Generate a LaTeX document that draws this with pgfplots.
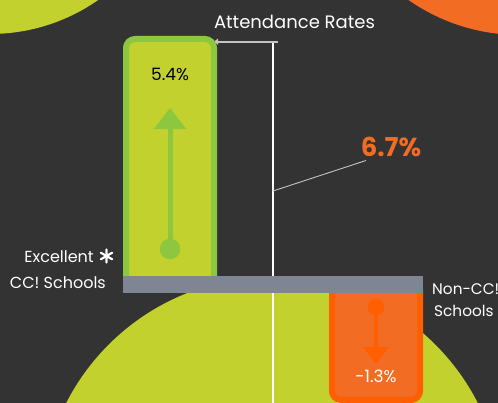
\documentclass[border=0pt]{standalone}
\usepackage{pgfplots}
\pgfplotsset{compat=1.18}
\usepackage{fontspec}
\setmainfont{Poppins}
\usetikzlibrary{arrows.meta}
\definecolor{bg}{HTML}{333333}
\definecolor{lime}{HTML}{C2D12E}
\definecolor{grborder}{HTML}{8DC63F}
\definecolor{orfill}{HTML}{F36C24}
\definecolor{orborder}{HTML}{FF5F00}
\definecolor{graybar}{HTML}{7F8593}
\definecolor{lgray}{HTML}{C4C4C4}
\begin{document}
\begin{tikzpicture}
\fill[bg] (0pt,0pt) rectangle (498pt,403pt);
\begin{scope}[overlay, x=1pt, y=1pt]
\clip (0,0) rectangle (498,403);
\fill[lime] (-10,558) circle[radius=189];
\fill[orfill] (520,563) circle[radius=195];
\fill[lime] (272,-105) circle[radius=231];
\draw[white, line width=2pt] (272.5,361) -- (272.5,-2);
\draw[lgray, line width=1.8pt, {Triangle[width=6pt,length=4pt]}-] (214,361.3) -- (278,361.3);
\draw[lgray, line width=0.9pt] (273,212) -- (366,242.5);
\fill[white!90!gray] (337,6) -- (344,0) -- (337,0) -- cycle;
\end{scope}
% green bar (Excellent CC! Schools)
\begin{axis}[at={(170pt,116pt)}, anchor=origin, width=88pt, height=248pt,
  scale only axis, xmin=-0.5, xmax=0.5, ymin=0, ymax=5.4, hide axis, clip=false]
\addplot[ybar, bar width=88pt, fill=lime, draw=grborder, line width=6pt, rounded corners=9pt] coordinates {(0,5.4)};
\addplot[sharp plot, grborder, line width=5pt, -{Triangle[width=31pt,length=21pt]}] coordinates {(0,0.827) (0,3.898)};
\addplot[only marks, color=grborder, mark=*, mark size=10pt, mark options={draw=none}] coordinates {(0,0.827)};
\end{axis}
% orange bar (Non-CC! Schools)
\begin{axis}[at={(376pt,122pt)}, anchor=origin, width=88pt, height=119pt,
  scale only axis, xmin=-0.5, xmax=0.5, ymin=-1.3, ymax=0, hide axis, clip=false]
\addplot[ybar, bar width=88pt, fill=orfill, draw=orborder, line width=6pt, rounded corners=9pt] coordinates {(0,-1.3)};
\addplot[sharp plot, orborder, line width=4.3pt, -{Triangle[width=25pt,length=17pt]}] coordinates {(0,-0.284) (0,-0.907)};
\addplot[only marks, color=orborder, mark=*, mark size=8pt, mark options={draw=none}] coordinates {(0,-0.284)};
\end{axis}
\begin{scope}[overlay, x=1pt, y=1pt]
\clip (0,0) rectangle (498,403);
\fill[graybar] (123,110) rectangle (423,127);
% texts
\node[anchor=base, inner sep=0, white, font=\fontsize{18}{21}\selectfont] at (294.5,374) {Attendance Rates};
\node[anchor=base, inner sep=0, orfill, font=\fontsize{26}{30}\selectfont\bfseries] at (391,246) {6.7\%};
\node[anchor=base, inner sep=0, black, font=\fontsize{17}{20}\selectfont] at (170,322) {5.4\%};
\node[anchor=base, inner sep=0, white, font=\fontsize{17}{20}\selectfont] at (376,20) {-1.3\%};
\node[anchor=base east, inner sep=0, white, font=\fontsize{16}{19}\selectfont] at (94,140) {Excellent};
\draw[white, line width=2.2pt, line cap=round]
  (106.5,140.5) -- (106.5,153.5)
  (100.9,143.75) -- (112.1,150.25)
  (100.9,150.25) -- (112.1,143.75);
\node[anchor=base east, inner sep=0, white, font=\fontsize{16}{19}\selectfont] at (106,114) {CC! Schools};
\node[anchor=base west, inner sep=0, white, font=\fontsize{15.3}{18}\selectfont] at (432,108) {Non-CC!};
\node[anchor=base west, inner sep=0, white, font=\fontsize{15.3}{18}\selectfont] at (434,86) {Schools};
\end{scope}
\end{tikzpicture}
\end{document}
